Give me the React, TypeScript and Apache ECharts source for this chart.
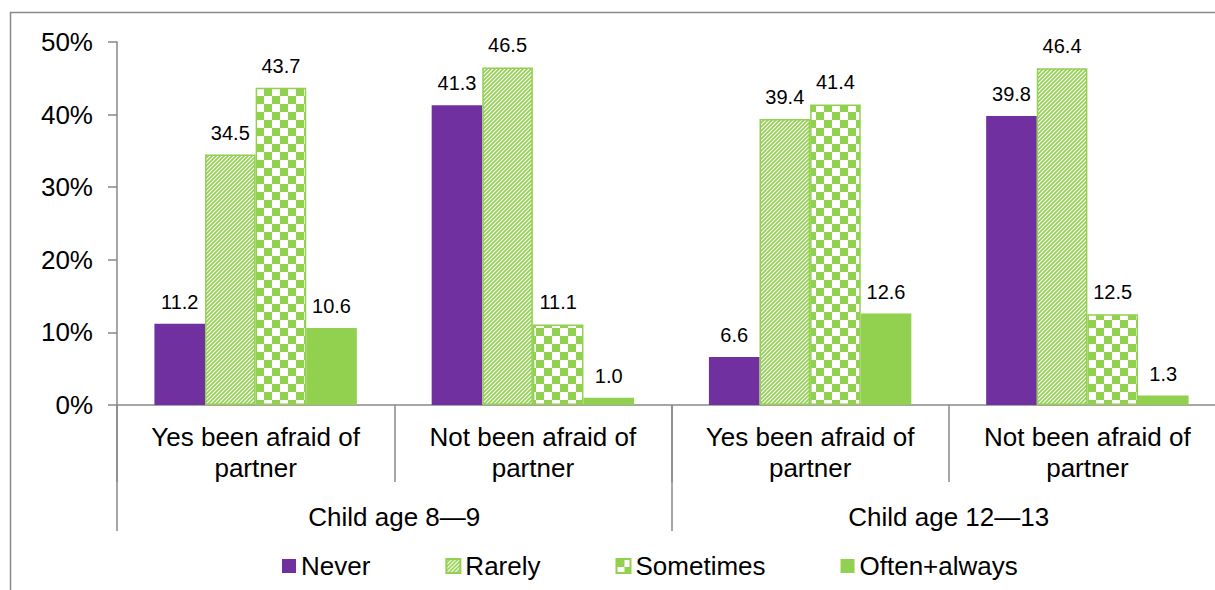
import React, { useEffect, useRef } from "react";
import * as echarts from "echarts";

// Response categories, one bar per category in each group
const categories = [
  "Yes been afraid of\npartner",
  "Not been afraid of\npartner",
  "Yes been afraid of\npartner",
  "Not been afraid of\npartner",
];
const ageGroups = ["Child age 8\u20149", "Child age 12\u201413"];

const never = [11.2, 41.3, 6.6, 39.8];
const rarely = [34.5, 46.5, 39.4, 46.4];
const sometimes = [43.7, 11.1, 41.4, 12.5];
const oftenAlways = [10.6, 1.0, 12.6, 1.3];

const yTicks = [0, 10, 20, 30, 40, 50];

const PURPLE = "#7030A0";
const GREEN = "#92D050";
const AXIS = "#898989";
const FONT = "'Liberation Sans', Arial, Helvetica, sans-serif";

function hatchTile(): HTMLCanvasElement {
  const c = document.createElement("canvas");
  const s = 4;
  c.width = s;
  c.height = s;
  const ctx = c.getContext("2d")!;
  ctx.fillStyle = "#ffffff";
  ctx.fillRect(0, 0, s, s);
  ctx.strokeStyle = GREEN;
  ctx.lineWidth = 1.6;
  ctx.beginPath();
  ctx.moveTo(-1, s + 1);
  ctx.lineTo(s + 1, -1);
  ctx.moveTo(-1, 1);
  ctx.lineTo(1, -1);
  ctx.moveTo(s - 1, s + 1);
  ctx.lineTo(s + 1, s - 1);
  ctx.stroke();
  return c;
}

function checkerTile(): HTMLCanvasElement {
  const c = document.createElement("canvas");
  const s = 16;
  c.width = s;
  c.height = s;
  const ctx = c.getContext("2d")!;
  ctx.fillStyle = "#ffffff";
  ctx.fillRect(0, 0, s, s);
  ctx.fillStyle = GREEN;
  ctx.fillRect(0, 0, s / 2, s / 2);
  ctx.fillRect(s / 2, s / 2, s / 2, s / 2);
  return c;
}

export default function App() {
  const ref = useRef<HTMLDivElement>(null);

  useEffect(() => {
    if (!ref.current) return;
    const chart = echarts.init(ref.current, undefined, { renderer: "svg" });

    const hatch = { image: hatchTile(), repeat: "repeat", imageWidth: 4, imageHeight: 4 };
    const checker = { image: checkerTile(), repeat: "repeat", imageWidth: 16, imageHeight: 16 };

    const valueLabel = {
      show: true,
      position: "top" as const,
      distance: 12,
      color: "#000",
      fontSize: 20,
      fontFamily: FONT,
      formatter: (p: any) => Number(p.value).toFixed(1),
    };

    const makeSeries = (name: string, data: number[], itemStyle: any) => ({
      name,
      type: "bar" as const,
      data,
      barGap: "0%",
      barCategoryGap: "27%",
      itemStyle,
      label: valueLabel,
      emphasis: { disabled: true },
    });

    chart.setOption({
      animation: false,
      backgroundColor: "#ffffff",
      textStyle: { fontFamily: FONT },
      // the plot runs past the right edge of the visible frame
      grid: { left: 117, top: 42, width: 1109, height: 363, containLabel: false },
      legend: {
        left: 282,
        top: 553,
        padding: 0,
        itemWidth: 14,
        itemHeight: 14,
        itemGap: 75,
        icon: "rect",
        textStyle: { fontSize: 26, color: "#000", fontFamily: FONT },
        data: ["Never", "Rarely", "Sometimes", "Often+always"],
      },
      xAxis: [
        {
          type: "category",
          data: categories,
          position: "bottom",
          axisLine: { show: true, lineStyle: { color: AXIS, width: 1.5 } },
          axisTick: { show: true, interval: 0, length: 77, lineStyle: { color: AXIS, width: 1.5 } },
          axisLabel: {
            interval: 0,
            margin: 16,
            fontSize: 26,
            lineHeight: 31,
            color: "#000",
            fontFamily: FONT,
          },
        },
        {
          type: "category",
          data: ageGroups,
          position: "bottom",
          axisLine: { show: false },
          axisTick: { show: true, interval: 0, length: 126, lineStyle: { color: AXIS, width: 1.5 } },
          axisLabel: {
            interval: 0,
            margin: 96,
            fontSize: 26,
            lineHeight: 31,
            color: "#000",
            fontFamily: FONT,
          },
        },
      ],
      yAxis: {
        type: "value",
        min: yTicks[0],
        max: yTicks[yTicks.length - 1],
        interval: 10,
        splitLine: { show: false },
        axisLine: { show: true, lineStyle: { color: AXIS, width: 1.5 } },
        axisTick: { show: true, length: 9, lineStyle: { color: AXIS, width: 1.5 } },
        axisLabel: {
          margin: 24,
          fontSize: 26,
          color: "#000",
          fontFamily: FONT,
          formatter: "{value}%",
        },
      },
      graphic: [
        {
          type: "polyline",
          shape: { points: [[10.5, 600], [10.5, 12.5], [1240, 12.5]] },
          style: { stroke: AXIS, lineWidth: 1.5, fill: null },
          silent: true,
        },
      ],
      series: [
        makeSeries("Never", never, { color: PURPLE }),
        makeSeries("Rarely", rarely, { color: hatch, borderColor: GREEN, borderWidth: 1.5 }),
        makeSeries("Sometimes", sometimes, { color: checker, borderColor: GREEN, borderWidth: 1.5 }),
        makeSeries("Often+always", oftenAlways, { color: GREEN }),
      ],
    });

    return () => chart.dispose();
  }, []);

  return (
    <div
      style={{
        position: "absolute",
        left: 0,
        top: 0,
        width: 1215,
        height: 590,
        overflow: "hidden",
      }}
    >
      <div ref={ref} style={{ width: 1240, height: 590 }} />
    </div>
  );
}
